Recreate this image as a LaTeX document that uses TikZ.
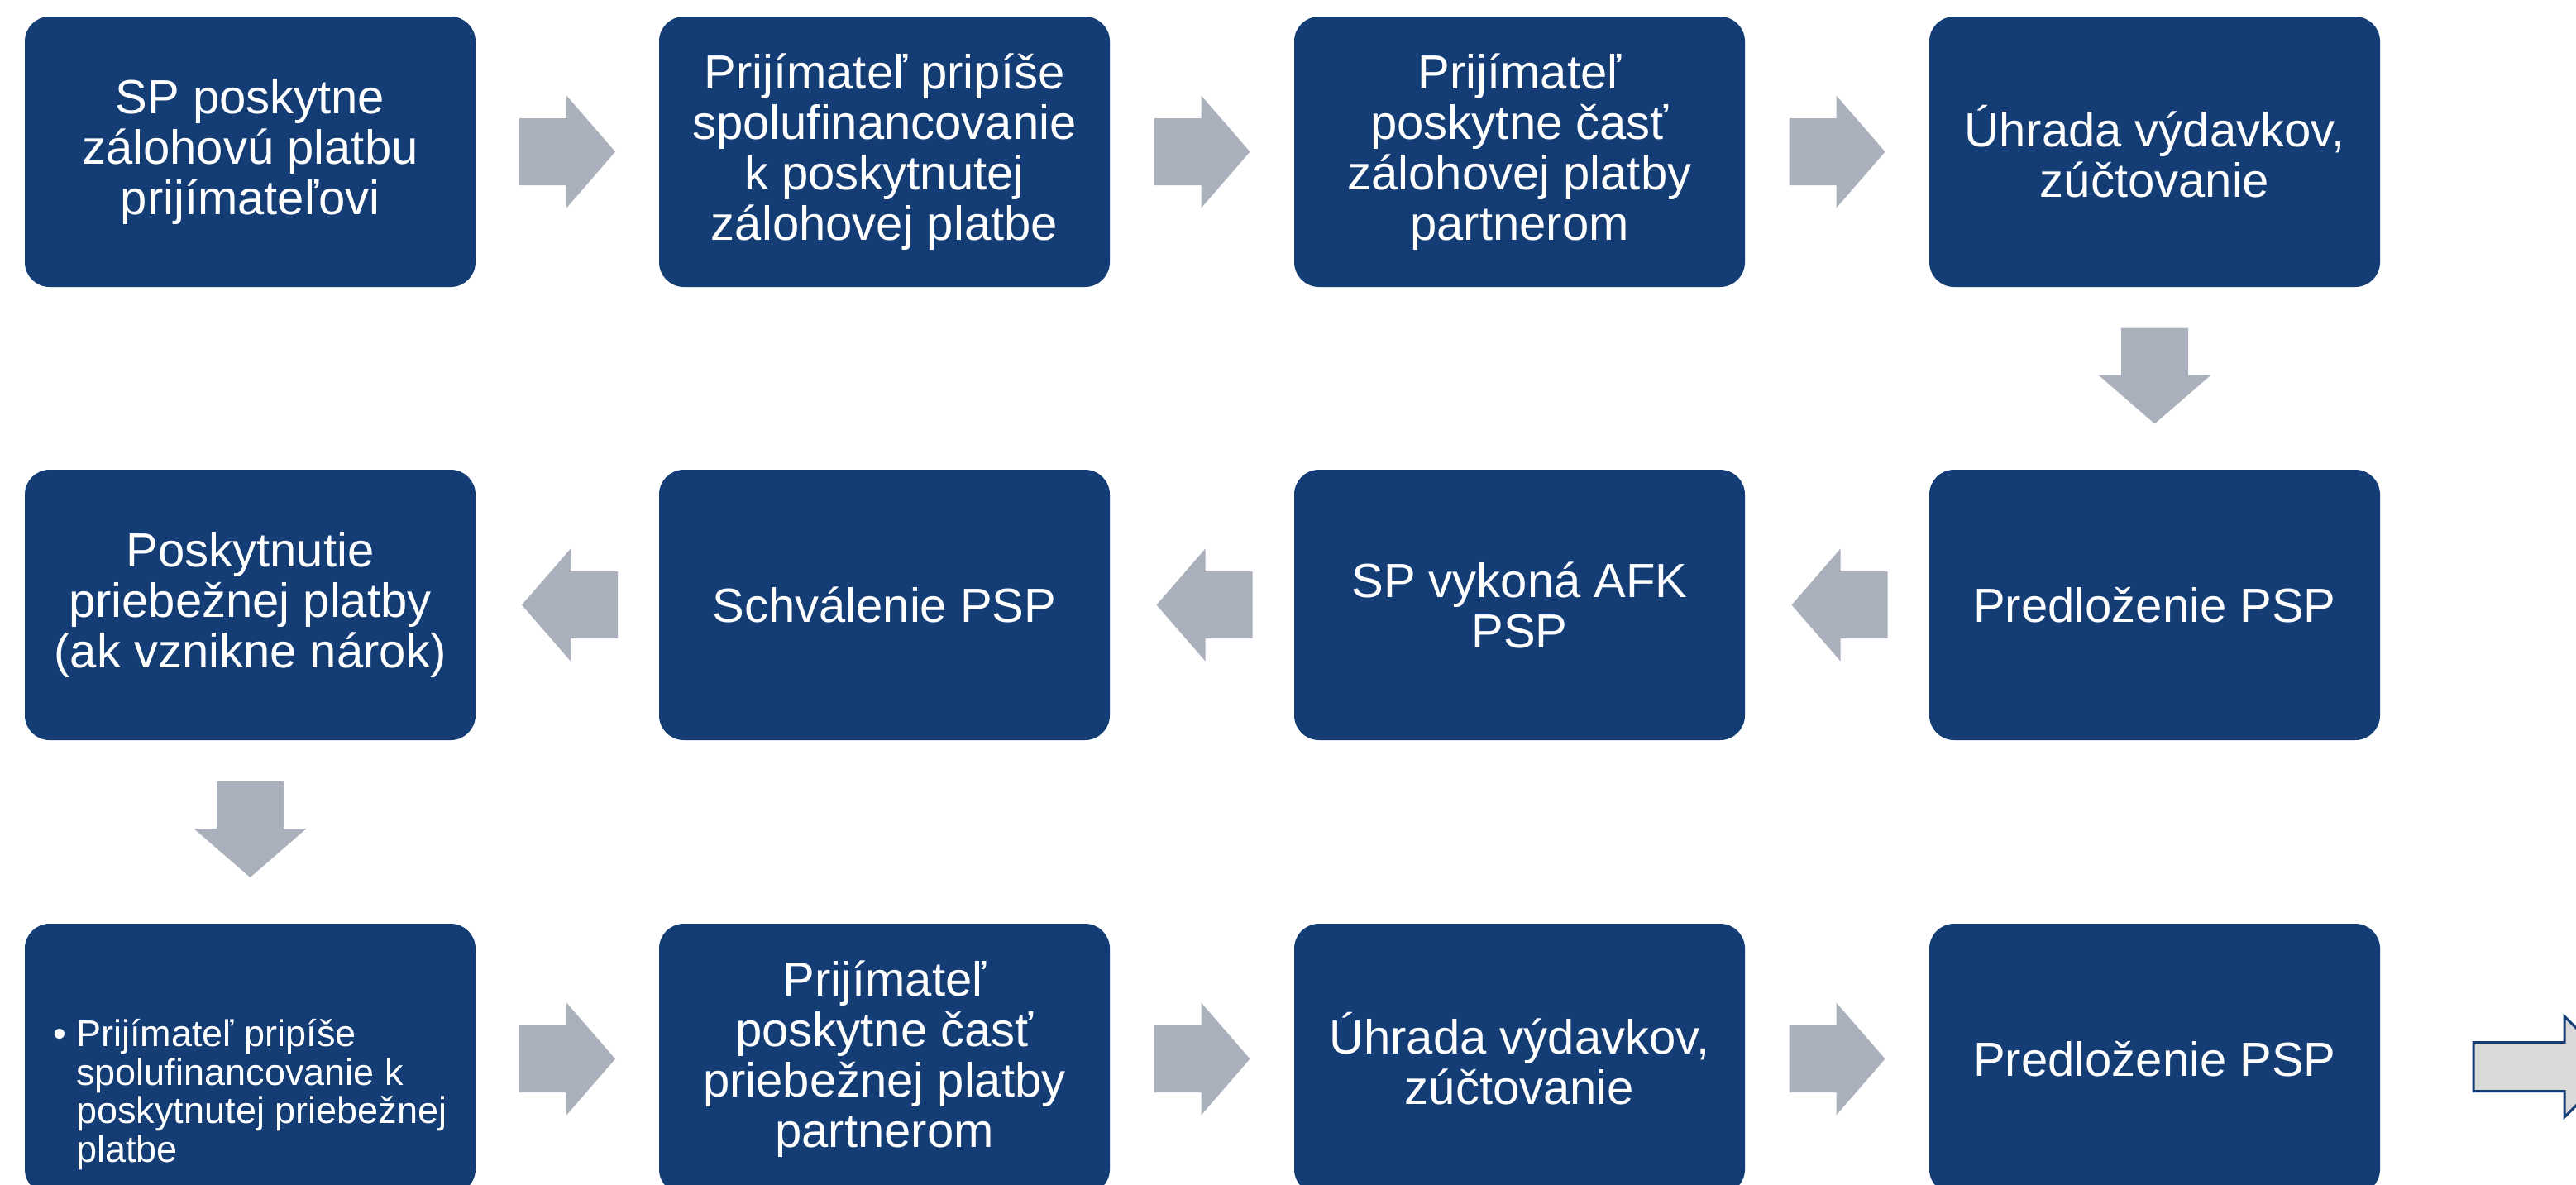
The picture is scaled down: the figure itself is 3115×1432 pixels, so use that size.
\documentclass[tikz,border=0pt]{standalone}
\usepackage{fontspec}
\setmainfont{Liberation Sans}
\usetikzlibrary{calc}
\definecolor{boxblue}{RGB}{19,61,116}
\definecolor{arrgray}{RGB}{170,176,188}
\definecolor{lightg}{RGB}{217,217,217}
\tikzset{
  box/.style={fill=boxblue, draw=none, rounded corners=15pt,
    minimum width=272.5pt, minimum height=163.5pt, inner sep=0pt,
    align=center, text=white, font=\fontsize{29}{30.5}\selectfont},
  smalltext/.style={inner sep=0pt, align=left, text=white,
    font=\fontsize{22.5}{23.3}\selectfont},
  rarrow/.pic={\fill[arrgray] (-58,-40.5) -- (-1,-40.5) -- (-1,-68) -- (58,0)
     -- (-1,68) -- (-1,40.5) -- (-58,40.5) -- cycle;},
  larrow/.pic={\fill[arrgray] (58,-40.5) -- (1,-40.5) -- (1,-68) -- (-58,0)
     -- (1,68) -- (1,40.5) -- (58,40.5) -- cycle;},
  darrow/.pic={\fill[arrgray] (-40.5,-58) -- (-40.5,-1) -- (-68,-1) -- (0,58)
     -- (68,-1) -- (40.5,-1) -- (40.5,-58) -- cycle;},
}
\begin{document}
\begin{tikzpicture}[x=0.5pt,y=-0.5pt]
\clip (0,0) rectangle (3115,1432);
\fill[white] (0,0) rectangle (3115,1432);
% row 1
\node[box] (a1) at (302.5,183.5) {SP poskytne\\zálohovú platbu\\prijímateľovi};
\node[box] (a2) at (1069.5,183.5) {Prijímateľ pripíše\\spolufinancovanie\\k poskytnutej\\zálohovej platbe};
\node[box] (a3) at (1837.5,183.5) {Prijímateľ\\poskytne časť\\zálohovej platby\\partnerom};
\node[box] (a4) at (2605.5,183.5) {Úhrada výdavkov,\\zúčtovanie};
% row 2
\node[box] (b4) at (2605.5,731.5) {Predloženie PSP};
\node[box] (b3) at (1837.5,731.5) {SP vykoná AFK\\PSP};
\node[box] (b2) at (1069.5,731.5) {Schválenie PSP};
\node[box] (b1) at (302.5,731.5) {Poskytnutie\\priebežnej platby\\(ak vznikne nárok)};
% row 3
\node[box] (c1) at (302.5,1280.5) {};
\node[smalltext, anchor=north west] (c1t) at (64,1232)
  {\makebox[14pt][l]{•}Prijímateľ pripíše\\\hspace*{14pt}spolufinancovanie k\\\hspace*{14pt}poskytnutej priebežnej\\\hspace*{14pt}platbe};
\node[box] (c2) at (1069.5,1280.5) {Prijímateľ\\poskytne časť\\priebežnej platby\\partnerom};
\node[box] (c3) at (1837.5,1280.5) {Úhrada výdavkov,\\zúčtovanie};
\node[box] (c4) at (2605.5,1280.5) {Predloženie PSP};
% arrows
\pic at ($(a1.east)!0.5!(a2.west)$) {rarrow};
\pic at ($(a2.east)!0.5!(a3.west)$) {rarrow};
\pic at ($(a3.east)!0.5!(a4.west)$) {rarrow};
\pic at ($(a4.south)!0.5!(b4.north)+(0,-3)$) {darrow};
\pic at ($(b4.west)!0.5!(b3.east)+(3,0)$) {larrow};
\pic at ($(b3.west)!0.5!(b2.east)+(3,0)$) {larrow};
\pic at ($(b2.west)!0.5!(b1.east)+(3,0)$) {larrow};
\pic at ($(b1.south)!0.5!(c1.north)+(0,-3)$) {darrow};
\pic at ($(c1.east)!0.5!(c2.west)$) {rarrow};
\pic at ($(c2.east)!0.5!(c3.west)$) {rarrow};
\pic at ($(c3.east)!0.5!(c4.west)$) {rarrow};
% exit arrow
\coordinate (ex) at (2991,1290);
\draw[boxblue, fill=lightg, line width=1.5pt, line join=miter]
  (ex) ++(0,-29.5) -- ++(110,0) -- ++(0,-31.5) -- ++(61,61) -- ++(-61,61)
  -- ++(0,-31.5) -- ++(-110,0) -- cycle;
\end{tikzpicture}
\end{document}
